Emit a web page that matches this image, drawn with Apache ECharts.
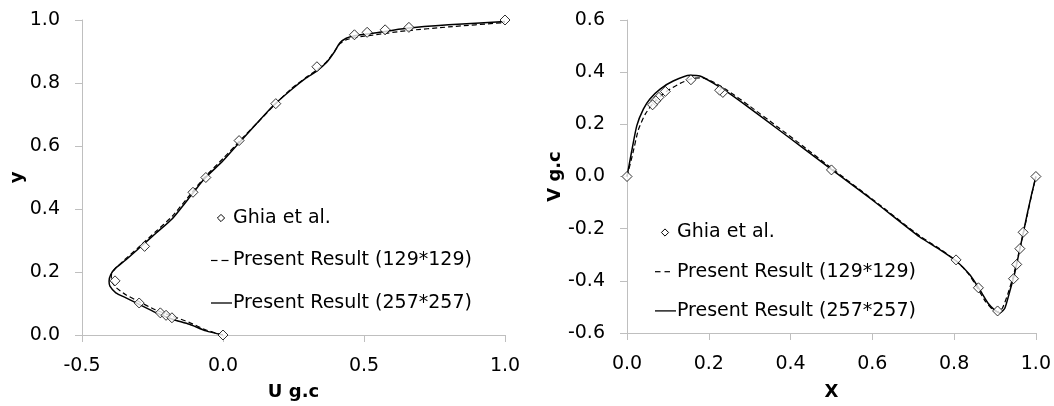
<!DOCTYPE html>
<html>
<head>
<meta charset="utf-8">
<script src="https://cdn.jsdelivr.net/npm/echarts@6/dist/echarts.min.js"></script>
<style>html,body{margin:0;padding:0;background:#fff}#c{width:1054px;height:406px}</style>
</head>
<body>
<div id="c"></div>
<script>
// Left panel: U along vertical centerline (u, y)
const ghiaU = [[1.0,1.0],[0.65928,0.9766],[0.57492,0.9688],[0.51117,0.9609],[0.46604,0.9531],[0.33304,0.8516],[0.18719,0.7344],[0.05702,0.6172],[-0.0608,0.5],[-0.10648,0.4531],[-0.27805,0.2813],[-0.38289,0.1719],[-0.2973,0.1016],[-0.2222,0.0703],[-0.20196,0.0625],[-0.18109,0.0547],[0,0]];
const u129 = [[0,0],[-0.06,0.016],[-0.12,0.04],[-0.18,0.06],[-0.24,0.08],[-0.30,0.107],[-0.345,0.128],[-0.378,0.15],[-0.395,0.172],[-0.396,0.19],[-0.385,0.208],[-0.35,0.238],[-0.30,0.278],[-0.24,0.327],[-0.18,0.377],[-0.11,0.453],[-0.066,0.5],[0,0.56],[0.06,0.617],[0.12,0.672],[0.18,0.728],[0.24,0.78],[0.295,0.818],[0.33,0.84],[0.366,0.866],[0.395,0.9],[0.415,0.925],[0.44,0.938],[0.47,0.945],[0.53,0.952],[0.65,0.966],[0.8,0.978],[1.0,0.992]];
const u257 = [[0,0],[-0.06,0.013],[-0.119,0.034],[-0.179,0.05],[-0.238,0.071],[-0.297,0.097],[-0.344,0.118],[-0.38,0.134],[-0.401,0.155],[-0.404,0.171],[-0.398,0.192],[-0.38,0.213],[-0.344,0.239],[-0.297,0.276],[-0.238,0.323],[-0.179,0.37],[-0.108,0.449],[-0.066,0.496],[0,0.553],[0.059,0.612],[0.12,0.672],[0.177,0.727],[0.24,0.777],[0.295,0.816],[0.331,0.837],[0.366,0.864],[0.396,0.9],[0.414,0.927],[0.437,0.942],[0.467,0.95],[0.532,0.958],[0.651,0.974],[0.8,0.985],[1.0,0.995]];

// Right panel: V along horizontal centerline (x, v)
const ghiaV = [[1.0,0],[0.9688,-0.21388],[0.9609,-0.27669],[0.9531,-0.33714],[0.9453,-0.39188],[0.9063,-0.5155],[0.8594,-0.42665],[0.8047,-0.31966],[0.5,0.02526],[0.2344,0.32235],[0.2266,0.33075],[0.1563,0.37095],[0.0938,0.32627],[0.0781,0.30353],[0.0703,0.29012],[0.0625,0.27485],[0,0]];
const v129 = [[0,0],[0.013,0.08],[0.028,0.18],[0.045,0.24],[0.0625,0.278],[0.08,0.305],[0.1,0.33],[0.13,0.357],[0.16,0.376],[0.185,0.378],[0.211,0.362],[0.244,0.332],[0.3,0.27],[0.366,0.193],[0.43,0.117],[0.5,0.032],[0.6,-0.087],[0.716,-0.228],[0.765,-0.277],[0.806,-0.325],[0.836,-0.375],[0.858,-0.43],[0.877,-0.48],[0.893,-0.508],[0.906,-0.518],[0.918,-0.505],[0.931,-0.452],[0.945,-0.38],[0.958,-0.295],[0.969,-0.22],[0.98,-0.14],[0.99,-0.068],[1.0,0]];
const v257 = [[0,0],[0.011,0.093],[0.024,0.195],[0.04,0.258],[0.056,0.297],[0.081,0.335],[0.113,0.366],[0.154,0.388],[0.178,0.385],[0.211,0.358],[0.244,0.325],[0.3,0.262],[0.366,0.185],[0.43,0.11],[0.5,0.027],[0.6,-0.09],[0.716,-0.232],[0.765,-0.28],[0.806,-0.325],[0.839,-0.378],[0.863,-0.435],[0.883,-0.486],[0.9,-0.513],[0.912,-0.523],[0.924,-0.505],[0.936,-0.441],[0.949,-0.365],[0.961,-0.276],[0.97,-0.21],[0.98,-0.135],[0.99,-0.065],[1.0,0]];

const legendNames = ['Ghia et al.', 'Present Result (129*129)', 'Present Result (257*257)'];
const axisTitles = {leftX: 'U g.c', leftY: 'y', rightX: 'X', rightY: 'V g.c'};

const FONT = 'DejaVu Sans';
const axisGray = '#bfbfbf';
function valAxis(extra) {
  return Object.assign({
    type: 'value',
    splitLine: {show: false},
    axisLine: {show: true, onZero: false, lineStyle: {color: axisGray, width: 1}},
    axisTick: {show: true, length: 7, lineStyle: {color: axisGray}},
    axisLabel: {color: '#000', fontSize: 19, fontFamily: FONT, margin: 22, formatter: v => v.toFixed(1)},
    nameLocation: 'middle',
    nameTextStyle: {color: '#000', fontSize: 18, fontWeight: 'bold', fontFamily: FONT}
  }, extra);
}

// Legend block drawn as graphic (icon kinds: diamond, dashed, solid)
function legendBlock(x, y0, gap, dashA, dashB) {
  const els = [];
  const textX = x + 22;
  const iconKinds = ['diamond', 'dashed', 'solid'];
  iconKinds.forEach((k, i) => {
    const cy = y0 + i * gap;
    if (k === 'diamond') {
      const cx = x + 10, r = 3.6;
      els.push({type: 'polygon', shape: {points: [[cx, cy - r], [cx + r, cy], [cx, cy + r], [cx - r, cy]]},
        style: {fill: '#fff', stroke: '#000', lineWidth: 1}});
    } else if (k === 'dashed') {
      els.push({type: 'line', shape: {x1: x, y1: cy, x2: x + dashA, y2: cy}, style: {stroke: '#000', lineWidth: 1.2}});
      els.push({type: 'line', shape: {x1: x + dashA + 4, y1: cy, x2: x + dashB, y2: cy}, style: {stroke: '#000', lineWidth: 1.2}});
    } else {
      els.push({type: 'line', shape: {x1: x, y1: cy, x2: x + 21, y2: cy}, style: {stroke: '#000', lineWidth: 1.3}});
    }
    els.push({type: 'text', x: textX, y: cy, style: {text: legendNames[i], fill: '#000', font: '19px "' + FONT + '"', verticalAlign: 'middle', align: 'left'}});
  });
  return {type: 'group', children: els};
}

const lineBase = {type: 'line', symbol: 'none', smooth: 0.2, silent: true, z: 2};
const option = {
  animation: false,
  backgroundColor: '#fff',
  grid: [
    {left: 82, top: 20, width: 423, height: 317},
    {left: 627, top: 20, width: 409, height: 315}
  ],
  xAxis: [
    valAxis({gridIndex: 0, min: -0.5, max: 1.0, interval: 0.5, name: axisTitles.leftX, nameGap: 48}),
    valAxis({gridIndex: 1, min: 0, max: 1.0, interval: 0.2, name: axisTitles.rightX, nameGap: 50})
  ],
  yAxis: [
    valAxis({gridIndex: 0, min: 0, max: 1.0, interval: 0.2, name: axisTitles.leftY, nameGap: 56}),
    valAxis({gridIndex: 1, min: -0.6, max: 0.6, interval: 0.2, name: axisTitles.rightY, nameGap: 60})
  ],
  graphic: [
    legendBlock(211, 218, 42.5, 6.5, 17.5),
    legendBlock(655, 232.5, 39.2, 5.5, 15)
  ],
  series: [
    Object.assign({}, lineBase, {name: legendNames[1], xAxisIndex: 0, yAxisIndex: 0, data: u129,
      lineStyle: {color: '#000', width: 1.2, type: [5, 3]}}),
    Object.assign({}, lineBase, {name: legendNames[2], xAxisIndex: 0, yAxisIndex: 0, data: u257,
      lineStyle: {color: '#000', width: 1.5}}),
    Object.assign({}, lineBase, {name: legendNames[1], xAxisIndex: 1, yAxisIndex: 1, data: v129,
      lineStyle: {color: '#000', width: 1.2, type: [5, 3]}}),
    Object.assign({}, lineBase, {name: legendNames[2], xAxisIndex: 1, yAxisIndex: 1, data: v257,
      lineStyle: {color: '#000', width: 1.5}}),
    {type: 'scatter', name: legendNames[0], xAxisIndex: 0, yAxisIndex: 0, data: ghiaU, symbol: 'diamond', symbolSize: 10, z: 5,
      itemStyle: {color: '#fff', borderColor: '#000', borderWidth: 1}},
    {type: 'scatter', name: legendNames[0], xAxisIndex: 1, yAxisIndex: 1, data: ghiaV, symbol: 'diamond', symbolSize: 10, z: 5,
      itemStyle: {color: '#fff', borderColor: '#000', borderWidth: 1}}
  ]
};
echarts.init(document.getElementById('c'), null, {renderer: 'canvas'}).setOption(option);
</script>
</body>
</html>
